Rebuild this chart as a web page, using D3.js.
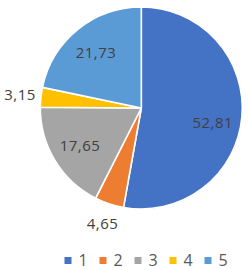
<!DOCTYPE html>
<html lang="en">
<head>
    <style>
        body { margin: 0; background: #fff; }
        text { font-family: "Open Sans", sans-serif; }
        .lbl { font-size: 15px; fill: #404040; letter-spacing: 0.5px; }
        .leg { font-size: 16px; fill: #595959; }
    </style>
    <script src="https://cdn.jsdelivr.net/npm/d3@7"></script>
</head>
<body>
    <svg id="chartContainer" width="249" height="270"></svg>
<script>
    // slice data, clockwise from 12 o'clock
    var categories = ["1", "2", "3", "4", "5"];
    var values = [52.81, 4.65, 17.65, 3.15, 21.73];
    var labels = ["52,81", "4,65", "17,65", "3,15", "21,73"];

    var colors = ["#4472c4", "#ed7d31", "#a5a5a5", "#ffc000", "#5b9bd5"];

    var svg = d3.select("svg"),
        cx = 141.3,
        cy = 108,
        radius = 101;

    var color = d3.scaleOrdinal().domain(categories).range(colors);

    var data = categories.map(function(c, i) {
        return { cat: c, value: values[i], label: labels[i] };
    });

    var pie = d3.pie().sort(null).value(function(d) { return d.value; });
    var arc = d3.arc().innerRadius(0).outerRadius(radius);
    var inArc = d3.arc().innerRadius(radius * 0.71).outerRadius(radius * 0.71);
    var outArc = d3.arc().innerRadius(radius + 21).outerRadius(radius + 21);

    var g = svg.append("g")
        .attr("transform", "translate(" + cx + "," + cy + ")");

    var arcs = pie(data);

    g.selectAll("path")
        .data(arcs)
        .enter().append("path")
        .attr("d", arc)
        .attr("fill", function(d) { return color(d.data.cat); })
        .attr("stroke", "#fff")
        .attr("stroke-width", 1.6)
        .attr("stroke-linejoin", "round");

    g.selectAll(".lbl")
        .data(arcs)
        .enter().append("text")
        .attr("class", "lbl")
        .attr("text-anchor", "middle")
        .attr("dy", "0.36em")
        .attr("transform", function(d) {
            var p = d.data.value < 5 ? outArc.centroid(d) : inArc.centroid(d);
            // the big slice's label sits a bit lower in the original
            if (d.data.value > 50) p[1] += 8;
            return "translate(" + p[0] + "," + p[1] + ")";
        })
        .text(function(d) { return d.data.label; });

    // legend
    var legX = d3.scalePoint().domain(categories).range([64.5, 204.5]);
    var leg = svg.append("g").attr("transform", "translate(0,260.5)");

    var item = leg.selectAll("g")
        .data(categories)
        .enter().append("g")
        .attr("transform", function(d) { return "translate(" + legX(d) + ",0)"; });

    item.append("rect")
        .attr("x", 0).attr("y", -3.5)
        .attr("width", 7).attr("height", 7)
        .attr("fill", function(d) { return color(d); });

    item.append("text")
        .attr("class", "leg")
        .attr("x", 14)
        .attr("dy", "0.36em")
        .text(function(d) { return d; });
</script>
</body>
</html>
